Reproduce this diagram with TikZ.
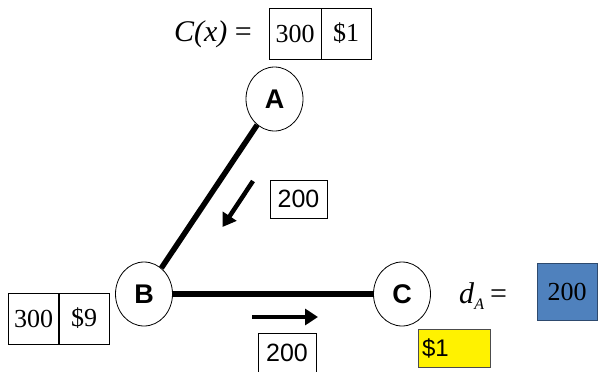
\documentclass[tikz,border=0pt]{standalone}
\usepackage{fontspec}
\setmainfont{Liberation Serif}
\newfontfamily\arialfont{Liberation Sans}
\usetikzlibrary{shapes.geometric,arrows.meta}
\definecolor{boxblue}{HTML}{4F81BD}
\definecolor{boxblueborder}{HTML}{2E4A6E}
\tikzset{
  vertex/.style={ellipse, draw, line width=0.8pt, minimum width=57pt, minimum height=64pt, inner sep=0pt, font=\arialfont\bfseries\fontsize{27}{27}\selectfont},
  edgeline/.style={line width=5.5pt},
  flowarrow/.style={line width=4.5pt, -{Triangle[length=13pt,width=16pt]}},
  valbox/.style={draw, line width=0.8pt, inner sep=0pt, font=\arialfont\fontsize{25}{25}\selectfont},
  cell/.style={draw, line width=0.8pt, inner sep=0pt, minimum height=51pt, minimum width=51pt, font=\fontsize{26}{26}\selectfont},
  serifeq/.style={inner sep=0pt, font=\fontsize{30}{30}\selectfont}
}
\begin{document}
\begin{tikzpicture}[x=1pt,y=-1pt]
\useasboundingbox (0,0) rectangle (598,372);

% vertices
\node[vertex] (A) at (274.5,99) {A};
\node[vertex] (B) at (144,294) {B};
\node[vertex] (C) at (402,294) {C};

% edges
\draw[edgeline] (A) -- (B);
\draw[edgeline] (B) -- (C);

% flow arrows
\coordinate (a1s) at (253,181);
\coordinate (a1e) at (222.5,227);
\draw[flowarrow] (a1s) -- (a1e);
\coordinate (a2s) at (252,317);
\coordinate (a2e) at (318,317);
\draw[flowarrow] (a2s) -- (a2e);

% flow boxes
\node[valbox, minimum width=57pt, minimum height=38pt] (f1) at (298.5,199) {200};
\node[valbox, minimum width=58pt, minimum height=40pt] (f2) at (287,353) {200};

% cost function at A
\node[serifeq, anchor=east] (cxl) at (252,34) {\textit{C(x)} =};
\node[cell, minimum width=52pt] (ca1) at (295,33.5) {300};
\node[cell, minimum width=50pt] (ca2) at (346,33.5) {\$1};

% cost at B
\node[cell] (cb1) at (33.5,318.5) {300};
\node[cell] (cb2) at (84,318.5) {\$9};

% demand at C
\node[serifeq, anchor=base west] (dal) at (459,303) {\textit{d}\raisebox{-6pt}{\fontsize{16}{16}\selectfont\textit{A}}\hspace{6pt}=};
\node[draw=boxblueborder, fill=boxblue, line width=0.9pt, minimum width=60pt, minimum height=57pt, inner sep=0pt, font=\fontsize{26}{26}\selectfont] (dv) at (567,291.5) {200};

% price at C
\node[draw=black!70, fill=yellow, line width=0.9pt, minimum width=72pt, minimum height=38pt, inner sep=0pt, text width=64pt, align=left, font=\arialfont\fontsize{24}{24}\selectfont] (pc) at (454,348) {\$1};
\end{tikzpicture}
\end{document}
